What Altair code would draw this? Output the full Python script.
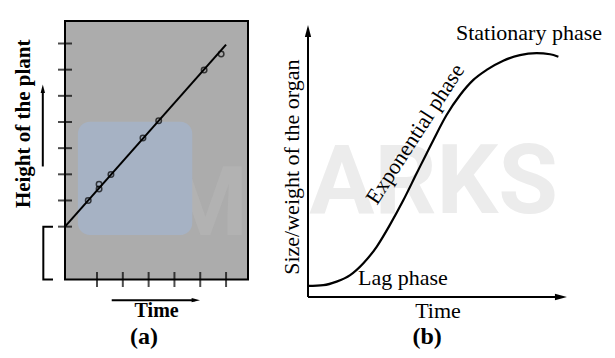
import altair as alt
import pandas as pd

# ---------------- Panel (a): height of the plant vs time ----------------
a_time_ticks = [1, 2, 3, 4, 5, 6]
a_height_ticks = [0, 1, 2, 3, 4, 5, 6, 7]
a_obs_time = [0.66, 1.08, 1.08, 1.54, 2.78, 3.39, 5.15, 5.81]
a_obs_height = [1.00, 1.62, 1.44, 1.99, 3.39, 4.05, 5.99, 6.60]
a_fit_time = [-0.24, 6.00]
a_fit_height = [0.00, 6.96]
a_frame_time = [-0.24, 6.85]
a_frame_height = [-2.02, 7.86]
a_ylabel = "Height of the plant"
a_xlabel = "Time"
a_tag = "(a)"

# ---------------- Panel (b): sigmoid growth curve ----------------
b_time = [0.0, 5.9, 11.0, 16.2, 21.3, 26.4, 31.5, 36.7, 41.8, 48.2, 53.3,
          58.5, 63.6, 68.7, 75.1, 81.5, 87.9, 93.1, 96.3]
b_size = [4.1, 4.4, 5.7, 8.1, 12.5, 18.6, 26.7, 35.9, 45.8, 58.1, 67.4,
          74.8, 80.4, 84.1, 87.5, 89.6, 90.3, 89.9, 89.0]
b_axis_time_max = 99.6
b_axis_size_max = 100.7
b_ylabel = "Size/weight of the organ"
b_xlabel = "Time"
b_tag = "(b)"
b_phases = ["Lag phase", "Exponential phase", "Stationary phase"]
watermark = ["M", "ARKS"]

SERIF = "Liberation Serif"

AX = alt.Scale(domain=a_frame_time, range=[57, 240], nice=False, zero=False)
AY = alt.Scale(domain=a_frame_height, range=[271.5, 13], nice=False, zero=False)
BX = alt.Scale(domain=[0, 100], range=[300, 560], nice=False, zero=False)
BY = alt.Scale(domain=[0, 100], range=[289, 19], nice=False, zero=False)


def xa(f):
    return alt.X(f, type="quantitative", scale=AX, axis=None)


def ya(f):
    return alt.Y(f, type="quantitative", scale=AY, axis=None)


def xb(f):
    return alt.X(f, type="quantitative", scale=BX, axis=None)


def yb(f):
    return alt.Y(f, type="quantitative", scale=BY, axis=None)


UP = "M0,0L0.42,1.6L-0.42,1.6Z"
RIGHT = "M0,0L-1.6,0.42L-1.6,-0.42Z"

layers = []

# watermark
layers.append(alt.Chart(pd.DataFrame({"t": [0.5], "s": [31.1], "label": [watermark[1]]}))
              .mark_text(font="Roboto", fontWeight="bold", fontSize=97, align="left",
                         baseline="alphabetic", color="#ececec")
              .encode(x=xb("t"), y=yb("s"), text="label"))

# ---- panel (a) ----
frame = pd.DataFrame({"t": [a_frame_time[0]], "t2": [a_frame_time[1]],
                      "h": [a_frame_height[0]], "h2": [a_frame_height[1]]})
layers.append(alt.Chart(frame).mark_rect(fill="#acacac", stroke="black", strokeWidth=2)
              .encode(x=xa("t"), x2="t2", y=ya("h"), y2="h2"))
layers.append(alt.Chart(pd.DataFrame({"t": [5.2], "h": [-0.32], "label": [watermark[0]]}))
              .mark_text(font="Roboto", fontWeight="bold", fontSize=97, align="center",
                         baseline="alphabetic", color="#b2b2b2")
              .encode(x=xa("t"), y=ya("h"), text="label"))
blue = pd.DataFrame({"t": [0.26], "t2": [4.69], "h": [-0.32], "h2": [4.01]})
layers.append(alt.Chart(blue).mark_rect(fill="#a6b2c4", cornerRadius=12)
              .encode(x=xa("t"), x2="t2", y=ya("h"), y2="h2"))

xt = pd.DataFrame({"t": a_time_ticks, "h": [a_frame_height[0]] * len(a_time_ticks)})
layers.append(alt.Chart(xt).mark_tick(orient="vertical", size=15, thickness=2, color="black")
              .encode(x=xa("t"), y=ya("h")))
yt = pd.DataFrame({"t": [a_frame_time[0]] * len(a_height_ticks), "h": a_height_ticks})
layers.append(alt.Chart(yt).mark_tick(orient="horizontal", size=14, thickness=2, color="black")
              .encode(x=xa("t"), y=ya("h")))

fit = pd.DataFrame({"t": a_fit_time, "h": a_fit_height})
layers.append(alt.Chart(fit).mark_line(color="black", strokeWidth=2)
              .encode(x=xa("t"), y=ya("h")))
obs = pd.DataFrame({"t": a_obs_time, "h": a_obs_height})
layers.append(alt.Chart(obs).mark_point(shape="circle", size=30, filled=False, color="black",
                                        strokeWidth=1.5)
              .encode(x=xa("t"), y=ya("h")))

bracket = pd.DataFrame({"t": [-0.705, -1.08, -1.08, -0.705], "h": [0.0, 0.0, -2.02, -2.02],
                        "i": [0, 1, 2, 3]})
layers.append(alt.Chart(bracket).mark_line(color="black", strokeWidth=2)
              .encode(x=xa("t"), y=ya("h"), order="i:Q"))

up = pd.DataFrame({"t": [-1.10, -1.10], "h": [2.30, 5.20]})
layers.append(alt.Chart(up).mark_line(color="black", strokeWidth=2)
              .encode(x=xa("t"), y=ya("h")))
layers.append(alt.Chart(pd.DataFrame({"t": [-1.10], "h": [5.43]}))
              .mark_point(shape=UP, size=110, filled=True, color="black", opacity=1, strokeWidth=0)
              .encode(x=xa("t"), y=ya("h")))

tarr = pd.DataFrame({"t": [1.57, 4.80], "h": [-2.81, -2.81]})
layers.append(alt.Chart(tarr).mark_line(color="black", strokeWidth=2)
              .encode(x=xa("t"), y=ya("h")))
layers.append(alt.Chart(pd.DataFrame({"t": [4.99], "h": [-2.81]}))
              .mark_point(shape=RIGHT, size=110, filled=True, color="black", opacity=1, strokeWidth=0)
              .encode(x=xa("t"), y=ya("h")))

layers.append(alt.Chart(pd.DataFrame({"t": [-1.83], "h": [3.93], "label": [a_ylabel]}))
              .mark_text(font=SERIF, fontWeight="bold", fontSize=21, angle=270,
                         align="center", baseline="middle", color="black")
              .encode(x=xa("t"), y=ya("h"), text="label"))
layers.append(alt.Chart(pd.DataFrame({"t": [3.31], "h": [-3.45], "label": [a_xlabel]}))
              .mark_text(font=SERIF, fontWeight="bold", fontSize=20, align="center",
                         baseline="alphabetic", color="black")
              .encode(x=xa("t"), y=ya("h"), text="label"))
layers.append(alt.Chart(pd.DataFrame({"t": [2.82], "h": [-4.50], "label": [a_tag]}))
              .mark_text(font=SERIF, fontWeight="bold", fontSize=24, align="center",
                         baseline="alphabetic", color="black")
              .encode(x=xa("t"), y=ya("h"), text="label"))

# ---- panel (b) ----
yax = pd.DataFrame({"t": [0, 0], "s": [0, b_axis_size_max - 3]})
layers.append(alt.Chart(yax).mark_line(color="black", strokeWidth=2)
              .encode(x=xb("t"), y=yb("s")))
layers.append(alt.Chart(pd.DataFrame({"t": [0], "s": [b_axis_size_max]}))
              .mark_point(shape=UP, size=225, filled=True, color="black", opacity=1, strokeWidth=0)
              .encode(x=xb("t"), y=yb("s")))
xax = pd.DataFrame({"t": [0, b_axis_time_max - 3], "s": [0, 0]})
layers.append(alt.Chart(xax).mark_line(color="black", strokeWidth=2)
              .encode(x=xb("t"), y=yb("s")))
layers.append(alt.Chart(pd.DataFrame({"t": [b_axis_time_max], "s": [0]}))
              .mark_point(shape=RIGHT, size=225, filled=True, color="black", opacity=1, strokeWidth=0)
              .encode(x=xb("t"), y=yb("s")))

curve = pd.DataFrame({"t": b_time, "s": b_size})
layers.append(alt.Chart(curve).mark_line(color="black", strokeWidth=2.2, interpolate="monotone")
              .encode(x=xb("t"), y=yb("s")))

btexts = [
    (b_phases[0], 36.5, 4.4, 0, "alphabetic"),
    (b_phases[1], 41.2, 60.4, 303, "middle"),
    (b_phases[2], 85.0, 95.2, 0, "alphabetic"),
    (b_xlabel, 50.0, -7.8, 0, "alphabetic"),
]
for label, t, s, ang, base in btexts:
    layers.append(alt.Chart(pd.DataFrame({"t": [t], "s": [s], "label": [label]}))
                  .mark_text(font=SERIF, fontSize=22, angle=ang, align="center",
                             baseline=base, color="black")
                  .encode(x=xb("t"), y=yb("s"), text="label"))
layers.append(alt.Chart(pd.DataFrame({"t": [-6.2], "s": [48.1], "label": [b_ylabel]}))
              .mark_text(font=SERIF, fontSize=22, angle=270, align="center",
                         baseline="middle", color="black")
              .encode(x=xb("t"), y=yb("s"), text="label"))
layers.append(alt.Chart(pd.DataFrame({"t": [45.8], "s": [-17.4], "label": [b_tag]}))
              .mark_text(font=SERIF, fontWeight="bold", fontSize=24, align="center",
                         baseline="alphabetic", color="black")
              .encode(x=xb("t"), y=yb("s"), text="label"))

chart = (alt.layer(*layers)
         .resolve_scale(x="independent", y="independent")
         .properties(width=599, height=342, padding=0, autosize="none", background="white")
         .configure_view(stroke=None))

chart.save("out.html", embed_options={"renderer": "svg", "actions": False})
